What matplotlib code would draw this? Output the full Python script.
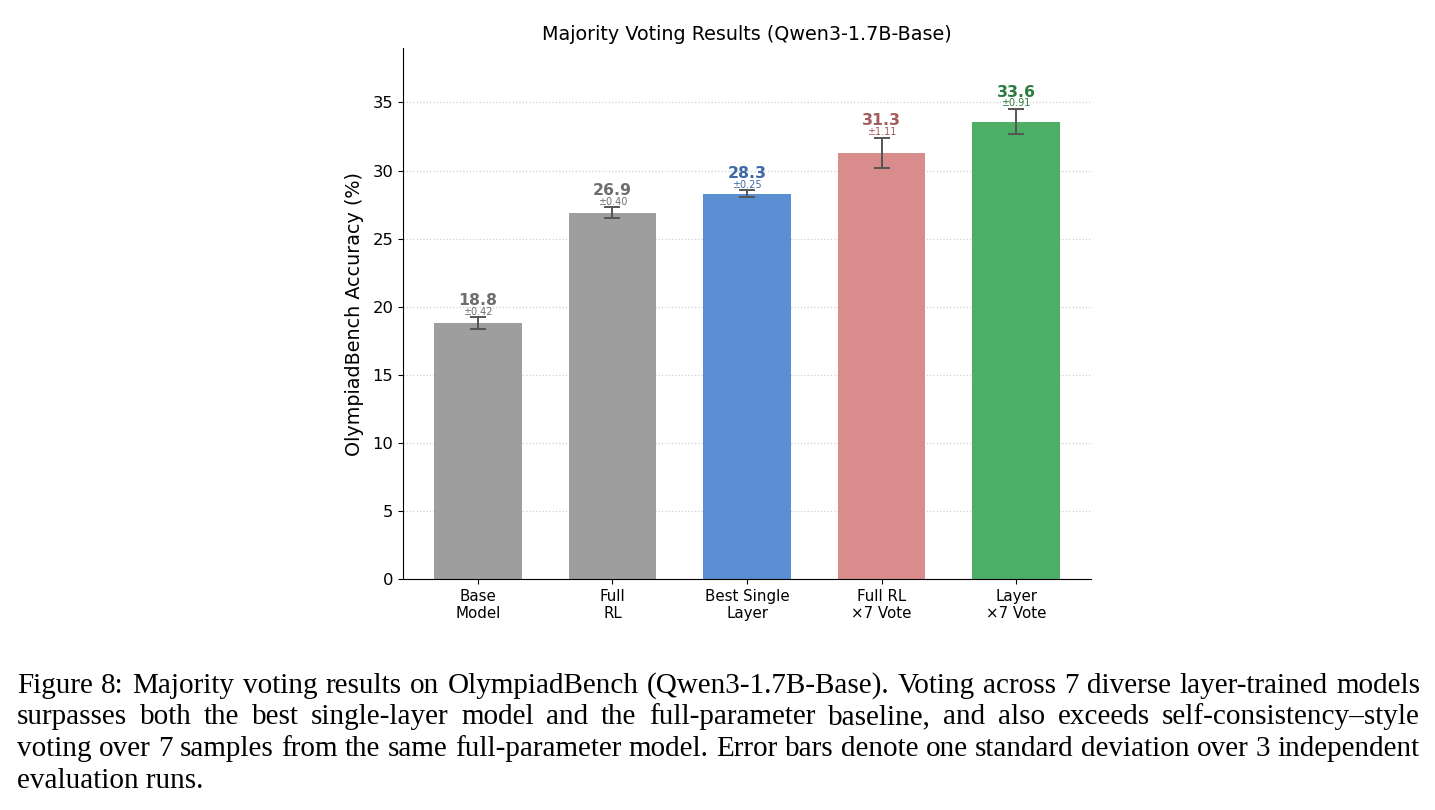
import matplotlib
matplotlib.use("Agg")
import matplotlib.pyplot as plt
import numpy as np

plt.rcParams["font.family"] = ["DejaVu Sans"]

categories = ["Base\nModel", "Full\nRL", "Best Single\nLayer", "Full RL\n×7 Vote", "Layer\n×7 Vote"]
values = [18.8, 26.9, 28.3, 31.3, 33.6]
errors = [0.42, 0.40, 0.25, 1.11, 0.91]
bar_colors = ["#9e9e9e", "#9e9e9e", "#5b8fd4", "#d98c8c", "#4daf66"]
text_colors = ["#6e6e6e", "#6e6e6e", "#3d69a6", "#a35b5b", "#2e7d40"]
yticks = [0, 5, 10, 15, 20, 25, 30, 35]

caption_lines = [
    "Figure 8: Majority voting results on OlympiadBench (Qwen3-1.7B-Base). Voting across 7 diverse layer-trained models",
    "surpasses both the best single-layer model and the full-parameter baseline, and also exceeds self-consistency\u2013style",
    "voting over 7 samples from the same full-parameter model. Error bars denote one standard deviation over 3 independent",
    "evaluation runs.",
]

W, H = 1435, 810
fig = plt.figure(figsize=(W / 100, H / 100), dpi=100)
ax = fig.add_axes([403 / W, (H - 579) / H, 688 / W, 531 / H])

x = np.arange(len(categories))
ax.bar(x, values, width=0.65, color=bar_colors, zorder=2)
ax.errorbar(x, values, yerr=errors, fmt="none", ecolor="#555555",
            elinewidth=1.4, capsize=6, capthick=1.4, zorder=3)

for xi, v, e, c in zip(x, values, errors, text_colors):
    ax.annotate(f"{v:.1f}", (xi, v + e), xytext=(0, 9), textcoords="offset points",
                ha="center", va="baseline", fontsize=11.3, fontweight="bold", color=c)
    ax.annotate(f"\u00b1{e:.2f}", (xi, v + e), xytext=(0, 2), textcoords="offset points",
                ha="center", va="baseline", fontsize=7, color=c)

ax.set_ylim(0, 39)
ax.set_yticks(yticks)
ax.set_xticks(x)
ax.set_xticklabels(categories, fontsize=10.8)
ax.tick_params(axis="y", labelsize=11.8)
ax.set_ylabel("OlympiadBench Accuracy (%)", fontsize=13.8, labelpad=6)
ax.set_title("Majority Voting Results (Qwen3-1.7B-Base)", fontsize=13.8)
ax.yaxis.grid(True, linestyle=":", color="#d0d0d0", linewidth=0.9, zorder=0)
ax.set_axisbelow(True)
ax.spines["top"].set_visible(False)
ax.spines["right"].set_visible(False)

# Caption (justified)
renderer = fig.canvas.get_renderer()
left_px, right_px = 17, 1420
baselines = [693, 724.5, 756, 787.5]
cap_font = dict(family="Liberation Serif", fontsize=21.0, color="black")
for i, (line, by) in enumerate(zip(caption_lines, baselines)):
    yf = (H - by) / H
    if i == len(caption_lines) - 1:
        fig.text(left_px / W, yf, line, ha="left", va="baseline", **cap_font)
        continue
    words = line.split(" ")
    widths = []
    for w in words:
        t = fig.text(0, 0, w, **cap_font)
        widths.append(t.get_window_extent(renderer=renderer).width)
        t.remove()
    gap = ((right_px - left_px) - sum(widths)) / (len(words) - 1)
    xp = left_px
    for w, wd in zip(words, widths):
        fig.text(xp / W, yf, w, ha="left", va="baseline", **cap_font)
        xp += wd + gap

fig.savefig("out.png", dpi=100)
